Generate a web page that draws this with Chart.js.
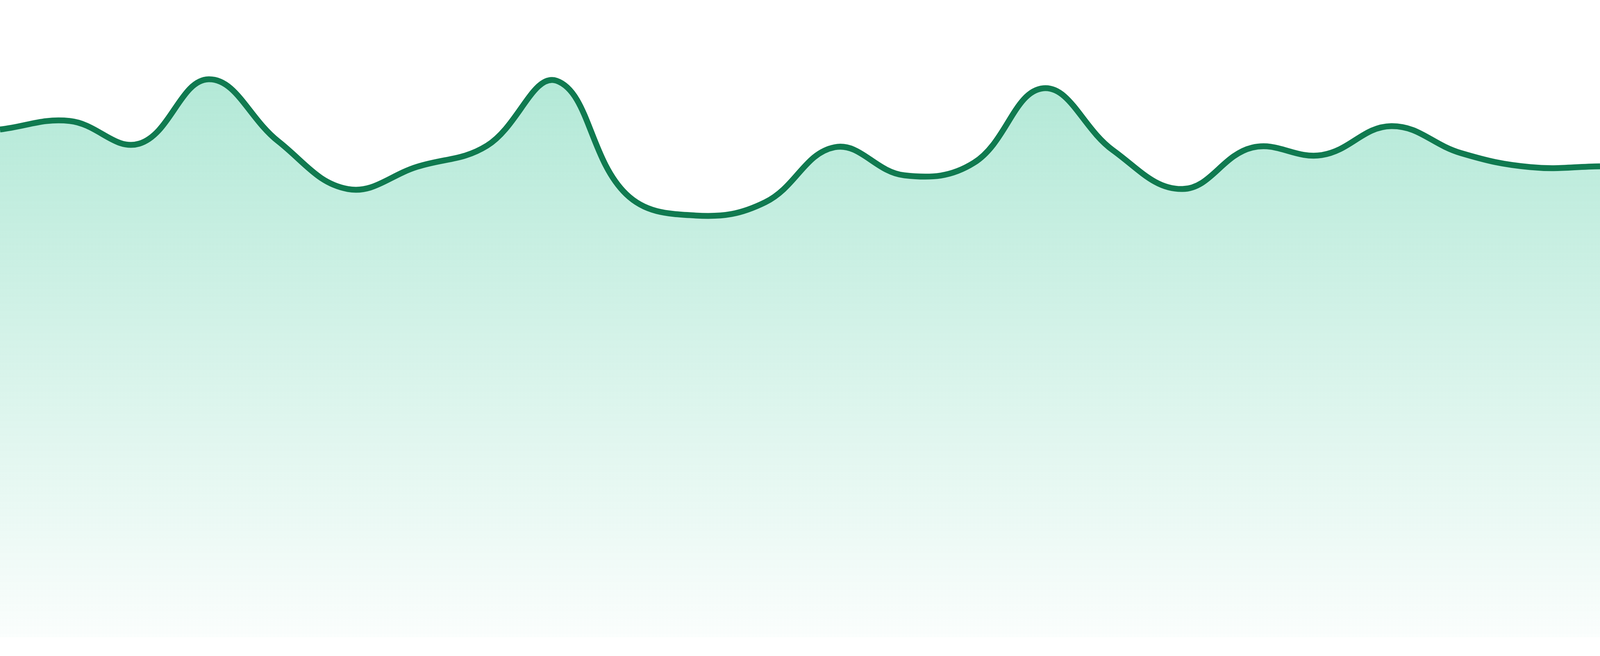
<!DOCTYPE html>
<html>
<head>
<meta charset="utf-8">
<script src="https://cdn.jsdelivr.net/npm/chart.js@4/dist/chart.umd.min.js"></script>
<style>
  html, body { margin: 0; padding: 0; background: #ffffff; overflow: hidden; width: 100%; height: 100%; }
  #wrap { width: 100vw; height: 100vh; position: relative; }
  canvas { display: block; }
</style>
</head>
<body>
<div id="wrap"><canvas id="c"></canvas></div>
<script>
const labels = ["1","2","3","4","5","6","7","8","9","10","11","12","13","14","15","16","17","18","19","20","21","22","23","24"];
const values = [79.68, 81.02, 77.45, 87.56, 77.82, 70.34, 73.84, 77.14, 87.33, 69.55, 66.18, 68.26,
                76.90, 72.49, 74.45, 86.15, 76.41, 70.34, 76.84, 75.67, 80.21, 75.98, 73.77, 73.90];
const yRange = [0, 100];

const H = window.innerHeight || 1680;
const sy = H / 1680;

const ctx = document.getElementById('c').getContext('2d');
new Chart(ctx, {
  type: 'line',
  data: {
    labels: labels,
    datasets: [{
      data: values,
      borderColor: '#107a50',
      borderWidth: 15 * sy,
      tension: 0.4,
      pointRadius: 0,
      pointHoverRadius: 0,
      fill: 'origin',
      backgroundColor: (context) => {
        const chart = context.chart;
        const area = chart.chartArea;
        if (!area) return 'rgba(16,185,129,0.2)';
        const g = chart.ctx.createLinearGradient(0, area.top, 0, area.bottom);
        g.addColorStop(0, 'rgba(16,185,129,0.36)');
        g.addColorStop(1, 'rgba(16,185,129,0.02)');
        return g;
      }
    }]
  },
  options: {
    responsive: true,
    maintainAspectRatio: false,
    animation: false,
    layout: { padding: { left: 0, right: 0, top: 0, bottom: 48 * sy } },
    plugins: { legend: { display: false }, tooltip: { enabled: false } },
    scales: {
      x: { display: false, offset: false },
      y: { display: false, min: yRange[0], max: yRange[1] }
    }
  }
});
</script>
</body>
</html>
